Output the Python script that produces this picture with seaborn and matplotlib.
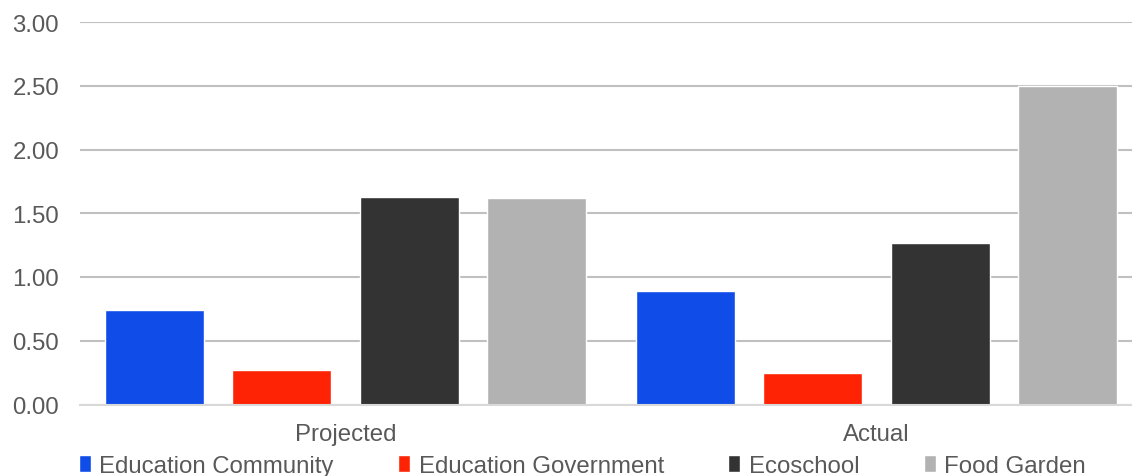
import matplotlib
matplotlib.use("Agg")
import matplotlib.pyplot as plt
import seaborn as sns
import pandas as pd

categories = ["Projected", "Actual"]
series = ["Education Community", "Education Government", "Ecoschool", "Food Garden"]
values = {
    "Education Community": [0.74, 0.89],
    "Education Government": [0.27, 0.25],
    "Ecoschool": [1.63, 1.27],
    "Food Garden": [1.62, 2.50],
}
colors = ["#104CE8", "#FF2306", "#333333", "#B2B2B2"]
yticks = [0.0, 0.5, 1.0, 1.5, 2.0, 2.5, 3.0]

rows = []
for s in series:
    for c, v in zip(categories, values[s]):
        rows.append({"category": c, "series": s, "value": v})
df = pd.DataFrame(rows)

sns.set_theme(style="white")
plt.rcParams["font.family"] = ["Liberation Sans", "DejaVu Sans"]

fig = plt.figure(figsize=(11.32, 4.77), dpi=100)
ax = fig.add_axes([80 / 1132, (477 - 405.5) / 477, 1062 / 1132, 382.5 / 477])

sns.barplot(data=df, x="category", y="value", hue="series", order=categories,
            hue_order=series, palette=colors, width=0.96, gap=0.22,
            saturation=1, ax=ax, legend=True, zorder=3)

fs = 17.3
ax.set_ylim(0, 3)
ax.set_xlim(-0.5, 1.5)
ax.set_yticks(yticks)
ax.set_yticklabels([f"{t:.2f}" for t in yticks])
ax.yaxis.grid(True, color="#C0C0C0", linewidth=1.5, zorder=0)
ax.set_axisbelow(True)
for sp in ["top", "right", "left"]:
    ax.spines[sp].set_visible(False)
ax.spines["bottom"].set_color("#D9D9D9")
ax.spines["bottom"].set_linewidth(1.5)
ax.spines["bottom"].set_zorder(4)
ax.set_xlabel("")
ax.set_ylabel("")
ax.tick_params(axis="y", length=0, pad=15, labelsize=fs, labelcolor="#595959")
ax.tick_params(axis="x", length=0, pad=13.5, labelsize=fs, labelcolor="#595959")
ax.set_xticks([-0.5, 0.5, 1.5], minor=True)
ax.tick_params(axis="x", which="minor", direction="in", length=5, width=1.5, color="#D9D9D9")

handles, labels = ax.get_legend_handles_labels()
ax.get_legend().remove()
fig.legend(handles, labels, loc="center left", bbox_to_anchor=(79 / 1132, 10 / 477),
           ncol=4, frameon=False, fontsize=fs, labelcolor="#595959",
           handlelength=0.5, handleheight=0.7, handletextpad=0.35,
           columnspacing=2.68, borderpad=0, borderaxespad=0)

fig.savefig("out.png", dpi=100)
